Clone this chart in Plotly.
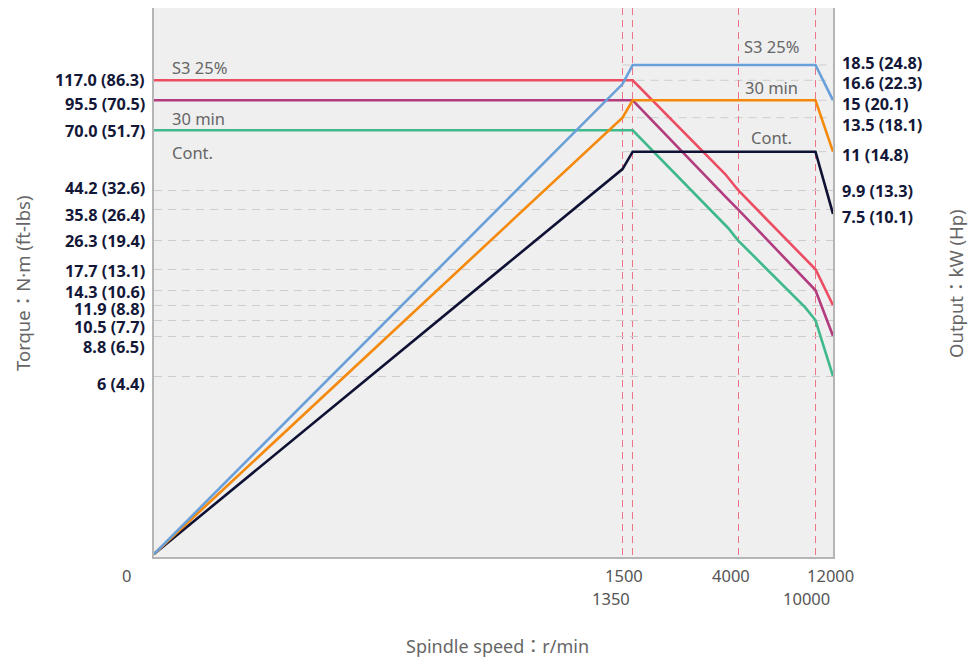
import numpy as np
import plotly.graph_objects as go

# ---------------- data ----------------
# Output (kW) curves: rise with speed, constant power band, drop at top speed
speed_power = [0, 1350, 1500, 10000, 12000]
power_s3 = [0, 16.3, 18.5, 18.5, 15.0]
power_30min = [0, 13.5, 15.0, 15.0, 11.0]
power_cont = [0, 10.5, 11.0, 11.0, 7.4]

# Torque (N·m) curves
speed_torque_s3 = [0, 1500, 3700, 4000, 10000, 12000]
torque_s3 = [117.0, 117.0, 51.0, 44.2, 17.7, 11.9]
speed_torque_30min = [0, 1500, 3730, 4000, 10000, 12000]
torque_30min = [95.5, 95.5, 40.8, 35.8, 14.3, 8.8]
speed_torque_cont = [0, 1500, 3770, 4000, 9200, 10000, 12000]
torque_cont = [70.0, 70.0, 30.0, 26.3, 11.7, 10.5, 6.0]

# tick labels
speed_ticks = [0, 1350, 1500, 4000, 10000, 12000]
speed_tick_text = ["0", "1350", "1500", "4000", "10000", "12000"]
speed_marked = [1350, 1500, 4000, 10000]
torque_ticks = [117.0, 95.5, 70.0, 44.2, 35.8, 26.3, 17.7, 14.3, 11.9, 10.5, 8.8, 6.0]
torque_tick_text = ["117.0 (86.3)", "95.5 (70.5)", "70.0 (51.7)", "44.2 (32.6)",
                    "35.8 (26.4)", "26.3 (19.4)", "17.7 (13.1)", "14.3 (10.6)",
                    "11.9 (8.8)", "10.5 (7.7)", "8.8 (6.5)", "6 (4.4)"]
power_ticks = [18.5, 16.6, 15.0, 13.5, 11.0, 9.9, 7.5]
power_tick_text = ["18.5 (24.8)", "16.6 (22.3)", "15 (20.1)", "13.5 (18.1)",
                   "11 (14.8)", "9.9 (13.3)", "7.5 (10.1)"]
series_names = ["S3 25%", "30 min", "Cont."]

# ---------------- scales (the chart uses non-linear, piecewise axes) ----------------
X_SPAN, Y_SPAN = 679, 549
SPEED_DOMAIN = [0, 1350, 1500, 4000, 10000, 12000]
SPEED_RANGE = [0, 468.5, 478.7, 584, 661.5, 679]
TORQUE_DOMAIN = [6, 8.8, 10.5, 11.9, 14.3, 17.7, 26.3, 35.8, 44.2, 70, 95.5, 117]
TORQUE_RANGE = [181, 221, 236.7, 251.7, 266.7, 287.7, 316.7, 347.7, 367, 426.7, 456.7, 476.7]
POWER_DOMAIN = [0, 7.5, 9.9, 11, 13.5, 15, 16.6, 18.5]
POWER_RANGE = [3, 347.7, 367, 405.3, 439.3, 456.7, 476.7, 492]


def xs(v):
    return np.interp(np.asarray(v, dtype=float), SPEED_DOMAIN, SPEED_RANGE)


def ts(v):
    return np.interp(np.asarray(v, dtype=float), TORQUE_DOMAIN, TORQUE_RANGE)


def ps(v):
    return np.interp(np.asarray(v, dtype=float), POWER_DOMAIN, POWER_RANGE)


# ---------------- styles ----------------
FONT = "Noto Sans, Noto Sans CJK JP, sans-serif"
NAVY = "#141838"
GRAY_TXT = "#666666"
C_RED, C_PURPLE, C_GREEN = "#ec4d63", "#b23c7e", "#3fb98b"
C_BLUE, C_ORANGE, C_NAVY = "#6aa0da", "#f5890b", "#0e1133"
LW = 2.6

fig = go.Figure()

torque_series = [
    (speed_torque_cont, torque_cont, C_GREEN),
    (speed_torque_30min, torque_30min, C_PURPLE),
    (speed_torque_s3, torque_s3, C_RED),
]
for sp, tq, col in torque_series:
    fig.add_trace(go.Scatter(x=xs(sp), y=ts(tq), mode="lines",
                             line=dict(color=col, width=LW), hoverinfo="skip"))

power_series = [
    (power_cont, C_NAVY),
    (power_30min, C_ORANGE),
    (power_s3, C_BLUE),
]
for pw, col in power_series:
    fig.add_trace(go.Scatter(x=xs(speed_power), y=ps(pw), mode="lines",
                             line=dict(color=col, width=LW), hoverinfo="skip"))

# partial power gridlines (from 1350 r/min to the right edge)
shapes = []
for p in power_ticks[:5]:
    yv = float(ps(p))
    shapes.append(dict(type="line", xref="x", yref="y", x0=float(xs(1350)), x1=X_SPAN,
                       y0=yv, y1=yv, layer="below",
                       line=dict(color="#cdcdcd", width=1, dash="8px,6px")))

annotations = []
# left (torque) labels
left_nudge = [0, -3.7, -0.7, 2.3, -5.7, -0.7, -2, -1.5, -3.2, -6.5, -10.8, -8.3]
for t, txt, dy in zip(torque_ticks, torque_tick_text, left_nudge):
    annotations.append(dict(xref="paper", yref="y", x=0, y=float(ts(t)), text=txt,
                            showarrow=False, xanchor="right", yanchor="middle",
                            xshift=-7, yshift=dy,
                            font=dict(family=FONT, size=16.3, color=NAVY, weight="bold")))
# right (power) labels
right_nudge = [2.3, -2.9, -3.2, -7.5, -3.5, -1.2, -7.5]
for p, txt, dy in zip(power_ticks, power_tick_text, right_nudge):
    annotations.append(dict(xref="paper", yref="y", x=1, y=float(ps(p)), text=txt,
                            showarrow=False, xanchor="left", yanchor="middle",
                            xshift=7, yshift=dy,
                            font=dict(family=FONT, size=16.3, color=NAVY, weight="bold")))
# x tick labels (two rows)
x_nudge = [-27.3, -11.2, -8.5, -6.8, -9.5, -3]
x_row = [-18.7, -41.5, -18.7, -18.7, -41.5, -18.7]
for s, txt, dx, dy in zip(speed_ticks, speed_tick_text, x_nudge, x_row):
    annotations.append(dict(xref="x", yref="paper", x=float(xs(s)), y=0, text=txt,
                            showarrow=False, xanchor="center", yanchor="middle",
                            xshift=dx, yshift=dy,
                            font=dict(family=FONT, size=16.5, color="#555555")))
# series names
left_name_y = [489.3, 438.7, 404.3]
right_name_y = [511, 469.3, 419.3]
for name, yl, yr in zip(series_names, left_name_y, right_name_y):
    annotations.append(dict(xref="x", yref="y", x=16, y=yl, text=name, showarrow=False,
                            xanchor="left", yanchor="middle",
                            font=dict(family=FONT, size=16.5, color=GRAY_TXT)))
    annotations.append(dict(xref="x", yref="y", x=617, y=yr, text=name, showarrow=False,
                            xanchor="center", yanchor="middle",
                            font=dict(family=FONT, size=16.5, color=GRAY_TXT)))
# axis titles
annotations.append(dict(xref="paper", yref="paper", x=(22 - 154) / 679, y=(556 - 283) / 549,
                        text="Torque：N·m (ft-lbs)", textangle=-90, showarrow=False,
                        xanchor="center", yanchor="middle",
                        font=dict(family=FONT, size=18.5, color=GRAY_TXT)))
annotations.append(dict(xref="paper", yref="paper", x=(955 - 154) / 679, y=(556 - 283) / 549,
                        text="Output：kW (Hp)", textangle=-90, showarrow=False,
                        xanchor="center", yanchor="middle",
                        font=dict(family=FONT, size=18.5, color=GRAY_TXT)))
annotations.append(dict(xref="paper", yref="paper", x=(497 - 154) / 679, y=(556 - 645) / 549,
                        text="Spindle speed：r/min", showarrow=False,
                        xanchor="center", yanchor="middle",
                        font=dict(family=FONT, size=18, color=GRAY_TXT)))

# the page body adds an 8px offset, so the figure is slightly smaller than the window
fig.update_layout(
    width=972, height=651,
    margin=dict(l=146, r=147, t=0, b=102),
    plot_bgcolor="#efefef", paper_bgcolor="#ffffff",
    showlegend=False,
    shapes=shapes, annotations=annotations,
    xaxis=dict(range=[0, X_SPAN], tickvals=[float(v) for v in xs(speed_marked)],
               showticklabels=False, ticks="", showgrid=True, gridcolor="#f07489",
               griddash="7px,5px", gridwidth=1.2, zeroline=False, showline=True,
               linecolor="#b5b5b5", linewidth=2, mirror=False, fixedrange=True),
    yaxis=dict(range=[0, Y_SPAN], tickvals=[float(v) for v in ts(torque_ticks[3:])],
               showticklabels=False, ticks="", showgrid=True, gridcolor="#cdcdcd",
               griddash="8px,6px", gridwidth=1, zeroline=False, showline=True,
               linecolor="#b5b5b5", linewidth=2, mirror=True, fixedrange=True),
)

fig.write_html("out.html")
